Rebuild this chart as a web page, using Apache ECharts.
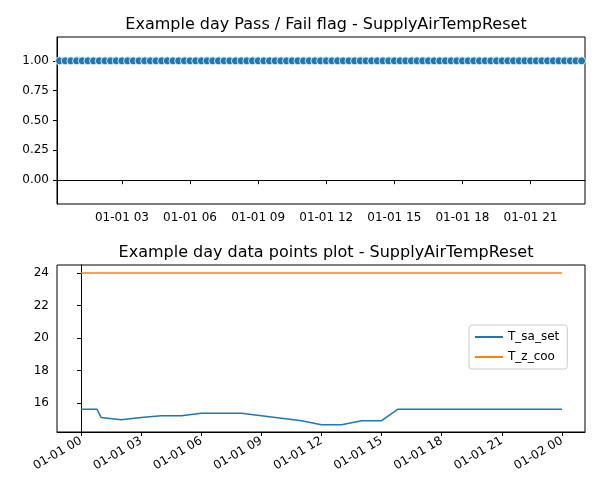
<!DOCTYPE html>
<html><head><meta charset="utf-8">
<script src="https://cdn.jsdelivr.net/npm/echarts@6/dist/echarts.min.js"></script>
<style>body{margin:0}#c{width:600px;height:500px}</style></head>
<body><div id="c"></div>
<script>
// top: pass/fail flag sampled every 15 min (hours of day)
const flagStartHour = 0, flagStepHour = 0.25, flagCount = 96;
const flagValues = [1,1,1,1,1,1,1,1,1,1,1,1,1,1,1,1,1,1,1,1,1,1,1,1,1,1,1,1,1,1,1,1,1,1,1,1,1,1,1,1,1,1,1,1,1,1,1,1,1,1,1,1,1,1,1,1,1,1,1,1,1,1,1,1,1,1,1,1,1,1,1,1,1,1,1,1,1,1,1,1,1,1,1,1,1,1,1,1,1,1,1,1,1,1,1,1];
const topTickHours = [3,6,9,12,15,18,21];
const topTickLabels = ['01-01 03','01-01 06','01-01 09','01-01 12','01-01 15','01-01 18','01-01 21'];
// bottom: data points
const tsaHours = [0,0.8,1,2,3,4,5,6,7,8,9,10,11,12,13,14,15,15.8,16,18,20,22,24];
const tsaValues = [15.6,15.6,15.1,14.95,15.1,15.2,15.2,15.35,15.35,15.35,15.2,15.05,14.9,14.65,14.65,14.9,14.9,15.6,15.6,15.6,15.6,15.6,15.6];
const tzHours = [0,24];
const tzValues = [24,24];
const botTickHours = [0,3,6,9,12,15,18,21,24];
const botTickLabels = ['01-01 00','01-01 03','01-01 06','01-01 09','01-01 12','01-01 15','01-01 18','01-01 21','01-02 00'];

const flagData = flagValues.slice(0, flagCount).map((v,i)=>[flagStartHour + i*flagStepHour, v]);
const lbl = (hs, ls) => v => { const i = hs.indexOf(v); return i >= 0 ? ls[i] : ''; };
const F = 'DejaVu Sans';
const ax = {show:true,lineStyle:{color:'#000',width:1}};
const tk = vals => ({show:true,inside:false,length:4,customValues:vals,lineStyle:{color:'#000'}});
const chart = echarts.init(document.getElementById('c'));
chart.setOption({
  animation:false,
  textStyle:{fontFamily:F},
  title:[
    {text:'Example day Pass / Fail flag - SupplyAirTempReset',left:321,top:12,textAlign:'center',textStyle:{fontFamily:F,fontSize:16,fontWeight:'normal',color:'#000'}},
    {text:'Example day data points plot - SupplyAirTempReset',left:321,top:240,textAlign:'center',textStyle:{fontFamily:F,fontSize:16,fontWeight:'normal',color:'#000'}}
  ],
  grid:[
    {left:57,right:15,top:37,height:167,show:true,borderColor:'#000',borderWidth:1,backgroundColor:'transparent'},
    {left:57,right:15,top:265,height:167,show:true,borderColor:'#000',borderWidth:1,backgroundColor:'transparent'}
  ],
  xAxis:[
    {type:'value',gridIndex:0,min:0.14,max:23.4,splitLine:{show:false},axisLine:ax,
     axisTick:tk(topTickHours),
     axisLabel:{customValues:topTickHours,formatter:lbl(topTickHours,topTickLabels),color:'#000',fontSize:12,margin:8}},
    {type:'value',gridIndex:1,min:-1.2,max:25.15,splitLine:{show:false},axisLine:ax,
     axisTick:tk(botTickHours),
     axisLabel:{customValues:botTickHours,formatter:lbl(botTickHours,botTickLabels),color:'#000',fontSize:12,rotate:30,margin:8}}
  ],
  yAxis:[
    {type:'value',gridIndex:0,min:-0.2,max:1.2,splitLine:{show:false},axisLine:ax,
     axisTick:tk([0,0.25,0.5,0.75,1]),
     axisLabel:{customValues:[0,0.25,0.5,0.75,1],formatter:v=>v.toFixed(2),color:'#000',fontSize:12}},
    {type:'value',gridIndex:1,min:14.2,max:24.5,splitLine:{show:false},axisLine:ax,
     axisTick:tk([16,18,20,22,24]),
     axisLabel:{customValues:[16,18,20,22,24],color:'#000',fontSize:12}}
  ],
  legend:{orient:'vertical',left:469,top:325,itemWidth:28,itemHeight:2,itemGap:8,padding:[6,8,6,6],
    borderColor:'#ccc',borderWidth:1,borderRadius:3,backgroundColor:'rgba(255,255,255,0.8)',
    textStyle:{fontFamily:F,fontSize:12,color:'#000'},
    data:[{name:'T_sa_set',icon:'rect'},{name:'T_z_coo',icon:'rect'}]},
  series:[
    {type:'scatter',xAxisIndex:0,yAxisIndex:0,data:flagData,symbolSize:8,clip:true,
     itemStyle:{color:'#1f77b4',borderColor:'#fff',borderWidth:0.8,opacity:1}},
    {name:'T_sa_set',type:'line',xAxisIndex:1,yAxisIndex:1,data:tsaHours.map((h,i)=>[h,tsaValues[i]]),showSymbol:false,
     lineStyle:{color:'#1f77b4',width:1.5},itemStyle:{color:'#1f77b4'}},
    {name:'T_z_coo',type:'line',xAxisIndex:1,yAxisIndex:1,data:tzHours.map((h,i)=>[h,tzValues[i]]),showSymbol:false,
     lineStyle:{color:'#ff7f0e',width:1.5},itemStyle:{color:'#ff7f0e'}}
  ]
});
</script></body></html>
